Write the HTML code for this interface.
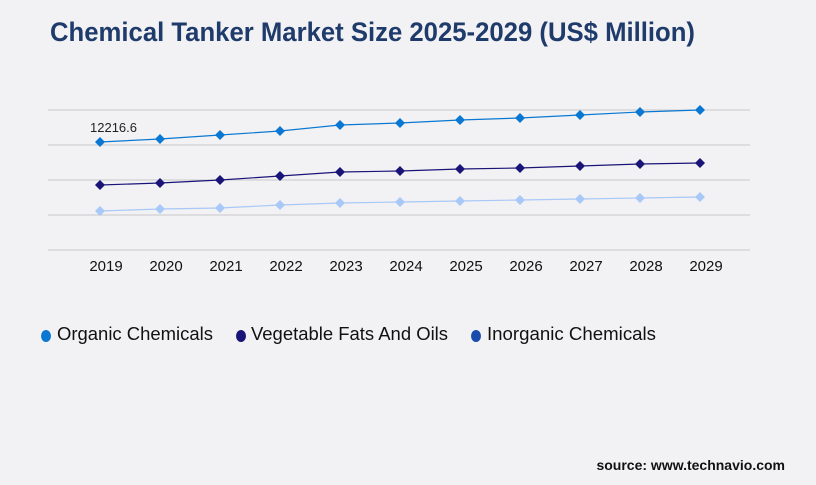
<!DOCTYPE html>
<html><head><style>
body{margin:0;width:816px;height:480px;background:#f2f2f4;overflow:hidden;font-family:"Liberation Sans",sans-serif}
</style></head><body>
<svg width="816" height="480" xmlns="http://www.w3.org/2000/svg">
<rect width="816" height="480" fill="#f2f2f4"/>
<text x="50" y="41" font-size="27" font-weight="bold" fill="#1f3b6b" textLength="645" lengthAdjust="spacingAndGlyphs">Chemical Tanker Market Size 2025-2029 (US$ Million)</text>
<g stroke="#c8c8cc" stroke-width="1">
<line x1="48" y1="110" x2="750" y2="110"/><line x1="48" y1="145" x2="750" y2="145"/><line x1="48" y1="180" x2="750" y2="180"/><line x1="48" y1="215" x2="750" y2="215"/><line x1="48" y1="250" x2="750" y2="250"/>
</g>
<g font-size="15" fill="#111" text-anchor="middle">
<text x="106" y="271">2019</text><text x="166" y="271">2020</text><text x="226" y="271">2021</text><text x="286" y="271">2022</text><text x="346" y="271">2023</text><text x="406" y="271">2024</text><text x="466" y="271">2025</text><text x="526" y="271">2026</text><text x="586" y="271">2027</text><text x="646" y="271">2028</text><text x="706" y="271">2029</text>
</g>
<text x="90" y="132" font-size="13" fill="#222">12216.6</text>
<defs><path id="d" d="M0,-5 L5,0 L0,5 L-5,0Z"/></defs>
<polyline fill="none" stroke="#a8c8f8" stroke-width="1.2" points="100,211 160,209 220,208 280,205 340,203 400,202 460,201 520,200 580,199 640,198 700,197"/>
<g fill="#a8c8f8"><use href="#d" x="100" y="211"/><use href="#d" x="160" y="209"/><use href="#d" x="220" y="208"/><use href="#d" x="280" y="205"/><use href="#d" x="340" y="203"/><use href="#d" x="400" y="202"/><use href="#d" x="460" y="201"/><use href="#d" x="520" y="200"/><use href="#d" x="580" y="199"/><use href="#d" x="640" y="198"/><use href="#d" x="700" y="197"/></g>
<polyline fill="none" stroke="#1a1478" stroke-width="1.2" points="100,185 160,183 220,180 280,176 340,172 400,171 460,169 520,168 580,166 640,164 700,163"/>
<g fill="#1a1478"><use href="#d" x="100" y="185"/><use href="#d" x="160" y="183"/><use href="#d" x="220" y="180"/><use href="#d" x="280" y="176"/><use href="#d" x="340" y="172"/><use href="#d" x="400" y="171"/><use href="#d" x="460" y="169"/><use href="#d" x="520" y="168"/><use href="#d" x="580" y="166"/><use href="#d" x="640" y="164"/><use href="#d" x="700" y="163"/></g>
<polyline fill="none" stroke="#0a78d2" stroke-width="1.2" points="100,142 160,139 220,135 280,131 340,125 400,123 460,120 520,118 580,115 640,112 700,110"/>
<g fill="#0a78d2"><use href="#d" x="100" y="142"/><use href="#d" x="160" y="139"/><use href="#d" x="220" y="135"/><use href="#d" x="280" y="131"/><use href="#d" x="340" y="125"/><use href="#d" x="400" y="123"/><use href="#d" x="460" y="120"/><use href="#d" x="520" y="118"/><use href="#d" x="580" y="115"/><use href="#d" x="640" y="112"/><use href="#d" x="700" y="110"/></g>
<g font-size="18" fill="#111">
<ellipse cx="46" cy="336" rx="5" ry="6" fill="#0a78d2"/><text x="57" y="340" textLength="156" lengthAdjust="spacingAndGlyphs">Organic Chemicals</text>
<ellipse cx="241" cy="336" rx="5" ry="6" fill="#1a1478"/><text x="251" y="340" textLength="197" lengthAdjust="spacingAndGlyphs">Vegetable Fats And Oils</text>
<ellipse cx="476" cy="336" rx="5" ry="6" fill="#1a4aaa"/><text x="487" y="340" textLength="169" lengthAdjust="spacingAndGlyphs">Inorganic Chemicals</text>
</g>
<text x="785" y="470" font-size="14" font-weight="bold" fill="#111" text-anchor="end">source: www.technavio.com</text>
</svg>
</body></html>
